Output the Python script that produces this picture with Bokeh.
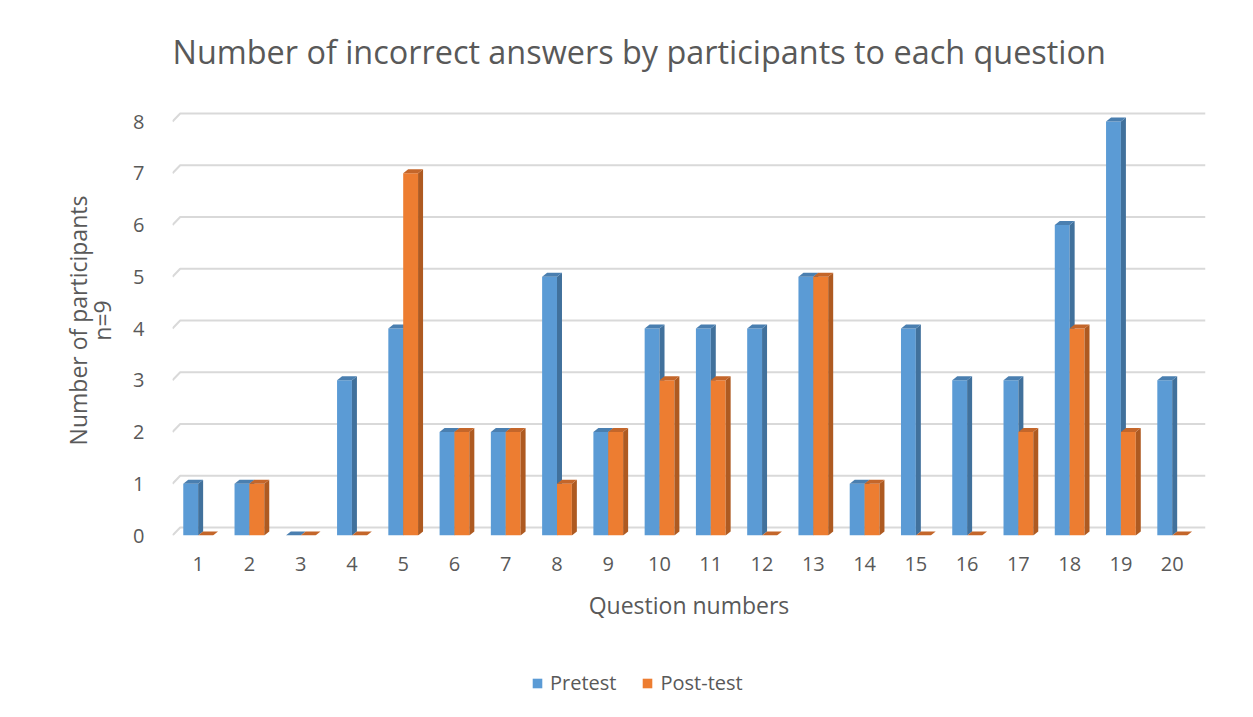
import numpy as np
from bokeh.plotting import figure
from bokeh.models import Range1d, FixedTicker, Legend, LegendItem, Label
from bokeh.layouts import column
from bokeh.embed import file_html
from bokeh.resources import INLINE

# ---- data ----
questions = [str(i) for i in range(1, 21)]
pretest = [1, 1, 0, 3, 4, 2, 2, 5, 2, 4, 4, 4, 5, 1, 4, 3, 3, 6, 8, 3]
posttest = [0, 1, 0, 0, 7, 2, 2, 1, 2, 3, 3, 0, 5, 1, 0, 0, 2, 4, 2, 0]
y_ticks = [0, 1, 2, 3, 4, 5, 6, 7, 8]
series_names = ["Pretest", "Post-test"]
title_text = "Number of incorrect answers by participants to each question"

FONT = "Open Sans"
TXT = "#595959"
GRID = "#d9d9d9"
BLUE = ("#5B9BD5", "#41719C", "#4A7FB0")
ORANGE = ("#ED7D31", "#AE5A21", "#C4662A")

W, TH, H, LH = 1253, 93, 557, 67
FL, FR = 172, 1205   # frame edges shared by the column's plots

# ---- title strip (its frame is aligned with the chart frame by the column) ----
tt = figure(width=W, height=TH, output_backend="svg", toolbar_location=None,
            x_range=Range1d(FL, FR), y_range=Range1d(0, TH), min_border=0)
tt.axis.visible = False
tt.grid.visible = False
tt.outline_line_color = None
tt.add_layout(Label(x=FL, y=TH - 50, text=title_text, text_font=FONT,
                    text_font_size="32.4px", text_color=TXT,
                    text_baseline="middle", text_align="left"))

# ---- main chart ----
p = figure(width=W, height=H, output_backend="svg", toolbar_location=None,
           min_border_left=FL, min_border_right=W - FR, min_border_top=12,
           min_border_bottom=115, x_range=Range1d(0.5, 20.65),
           y_range=Range1d(0, 8.31))
p.outline_line_color = None
p.xgrid.visible = False
p.ygrid.visible = False

# depth of the back wall (data units) and bar depth
wall_dx, wall_dy = 0.15, 0.155
bar_dx, bar_dy = 0.0975, 0.077
bw = 0.29
x0, x1 = 0.5, 20.5

# gridlines on the back wall with slanted connector
gxs = [[x0, x0 + wall_dx, x1 + wall_dx] for t in y_ticks]
gys = [[t, t + wall_dy, t + wall_dy] for t in y_ticks]
p.multi_line(gxs, gys, line_color=GRID, line_width=2)

xs_pos = list(range(1, len(questions) + 1))

def bar3d(values, offset, colors):
    front, side, top = colors
    lefts = [x + offset - bw / 2 for x in xs_pos]
    rights = [x + offset + bw / 2 for x in xs_pos]
    centers = [x + offset for x in xs_pos]
    p.vbar(x=centers, top=values, bottom=0, width=bw, fill_color=front, line_color=None)
    sx = [[rr, rr + bar_dx, rr + bar_dx, rr] for rr in rights]
    sy = [[0, bar_dy, v + bar_dy, v] for v in values]
    p.patches(sx, sy, fill_color=side, line_color=None)
    tx = [[ll, ll + bar_dx, rr + bar_dx, rr] for ll, rr in zip(lefts, rights)]
    ty = [[v, v + bar_dy, v + bar_dy, v] for v in values]
    p.patches(tx, ty, fill_color=top, line_color=None)

bar3d(pretest, -bw / 2, BLUE)
bar3d(posttest, bw / 2, ORANGE)

# axes
p.xaxis.ticker = FixedTicker(ticks=xs_pos)
p.xaxis.major_label_overrides = {i: q for i, q in zip(xs_pos, questions)}
p.yaxis.ticker = FixedTicker(ticks=y_ticks)
for ax in (p.xaxis, p.yaxis):
    ax.axis_line_color = None
    ax.major_tick_line_color = None
    ax.minor_tick_line_color = None
    ax.major_label_text_font = FONT
    ax.major_label_text_color = TXT
    ax.major_label_text_font_size = "20px"
    ax.axis_label_text_font = FONT
    ax.axis_label_text_color = TXT
    ax.axis_label_text_font_size = "23px"
    ax.axis_label_text_font_style = "normal"
p.xaxis.major_label_standoff = 15
p.xaxis.axis_label = "Question numbers"
p.xaxis.axis_label_standoff = 15
p.yaxis.major_label_standoff = 22
p.yaxis.axis_label = "Number of participants\nn=9"
p.yaxis.axis_label_standoff = 12
p.yaxis.axis_label_text_line_height = 0.76

# ---- legend strip below the chart (swatch renderers carry no drawable points) ----
lg = figure(width=W, height=LH, output_backend="svg", toolbar_location=None,
            x_range=Range1d(0, 1), y_range=Range1d(0, 1), min_border=0)
lg.axis.visible = False
lg.grid.visible = False
lg.outline_line_color = None
nan = np.array([np.nan])
e1 = lg.vbar(x=nan, top=nan, width=0.1, fill_color=BLUE[0], line_color=None)
e2 = lg.vbar(x=nan, top=nan, width=0.1, fill_color=ORANGE[0], line_color=None)
legend = Legend(items=[LegendItem(label=series_names[0], renderers=[e1]),
                       LegendItem(label=series_names[1], renderers=[e2])],
                orientation="horizontal", location=(359, 21),
                label_text_font=FONT, label_text_color=TXT,
                label_text_font_size="20px", glyph_width=12, glyph_height=12,
                label_standoff=7, spacing=25, border_line_color=None,
                background_fill_alpha=0, margin=0, padding=5)
lg.add_layout(legend)

layout = column(tt, p, lg, spacing=0)
open("out.html", "w").write(file_html(layout, INLINE))
